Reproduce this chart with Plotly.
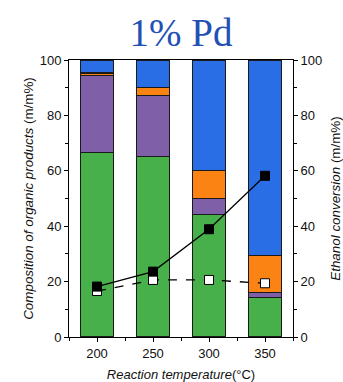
import plotly.graph_objects as go

temps = [200, 250, 300, 350]
green = [66.5, 65.3, 44.3, 14.4]
purple = [28.0, 22.0, 5.6, 1.8]
orange = [0.8, 2.8, 10.3, 13.2]
blue = [4.7, 9.9, 39.8, 70.6]
conversion = [18.2, 23.6, 38.9, 58.2]
dashed_vals = [16.6, 20.6, 20.6, 19.4]

colors = ["#48b04a", "#7f5fa8", "#fb8313", "#2a6ee6"]
series = [green, purple, orange, blue]

fig = go.Figure()
for vals, c in zip(series, colors):
    fig.add_trace(go.Bar(x=temps, y=vals, width=30, marker=dict(color=c, line=dict(color="#1a1a1a", width=1.2)),
                         showlegend=False))

fig.add_trace(go.Scatter(x=temps, y=dashed_vals, mode="lines+markers", yaxis="y2",
                         line=dict(color="black", width=1.3, dash="dash"),
                         marker=dict(symbol="square", size=9, color="white", line=dict(color="black", width=1)),
                         showlegend=False))
fig.add_trace(go.Scatter(x=temps, y=conversion, mode="lines+markers", yaxis="y2",
                         line=dict(color="black", width=1.3),
                         marker=dict(symbol="square", size=9, color="black", line=dict(color="black", width=1)),
                         showlegend=False))

font_ax = dict(family="Liberation Sans, Arial", size=13, color="#111")
title_font = dict(family="Liberation Sans, Arial", size=13.4, color="#111")
fig.update_layout(
    width=343, height=382,
    barmode="stack",
    plot_bgcolor="white", paper_bgcolor="white",
    margin=dict(l=69, r=50, t=60, b=45, autoexpand=False),
    title=dict(text="1% Pd", x=0.5, xref="paper", xanchor="center", y=1 - 46 / 382, yanchor="bottom",
               font=dict(family="Liberation Serif, Times New Roman", size=39, color="#2350b4")),
    xaxis=dict(range=[175, 375], tickvals=[200, 250, 300, 350], ticks="outside", ticklen=4, automargin=False,
               minor=dict(tickvals=[175, 225, 275, 325, 375], ticks="outside", ticklen=3, tickcolor="black"),
               showline=True, linecolor="black", linewidth=1, mirror=True, showgrid=False, zeroline=False,
               tickfont=font_ax, tickcolor="black",
               title=dict(text="<i>Reaction temperature</i>(°C)", font=dict(family="Liberation Sans, Arial", size=13, color="#111"), standoff=12)),
    yaxis=dict(range=[0, 100], tickvals=[0, 20, 40, 60, 80, 100], ticks="outside", ticklen=4, automargin=False,
               minor=dict(tickvals=[10, 30, 50, 70, 90], ticks="outside", ticklen=3, tickcolor="black"),
               showline=True, linecolor="black", linewidth=1, showgrid=False, zeroline=False,
               tickfont=font_ax, tickcolor="black",
               title=dict(text="<i>Composition of organic products</i> (m/m%)", font=title_font, standoff=3)),
    yaxis2=dict(range=[0, 100], overlaying="y", side="right", tickvals=[0, 20, 40, 60, 80, 100], ticks="outside", ticklen=4, automargin=False,
                minor=dict(tickvals=[10, 30, 50, 70, 90], ticks="outside", ticklen=3, tickcolor="black"),
                showline=True, linecolor="black", linewidth=1, showgrid=False, zeroline=False,
                tickfont=font_ax, tickcolor="black",
                title=dict(text="<i>Ethanol conversion</i> (m/m%)", font=title_font, standoff=12)),
)
fig.write_html("out.html")
